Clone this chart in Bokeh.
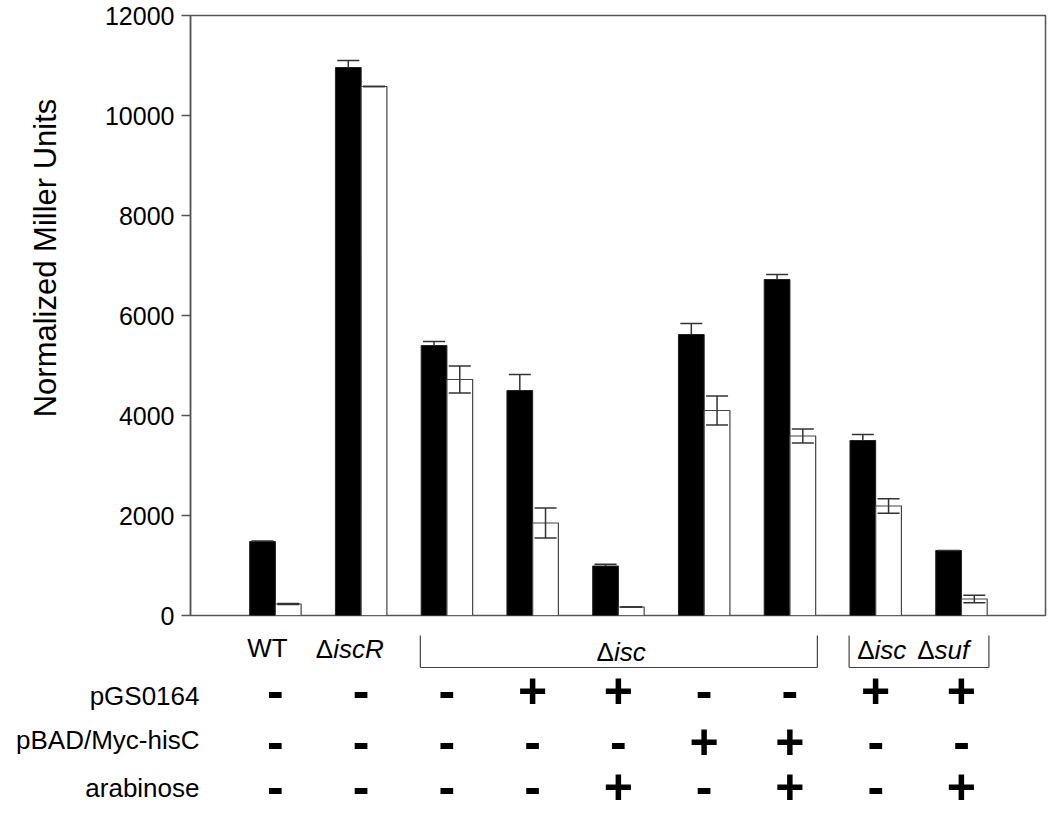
import math
from bokeh.plotting import figure
from bokeh.models import Range1d, FixedTicker, ColumnDataSource, Whisker, TeeHead
from bokeh.layouts import column, row
from bokeh.core.properties import value
from bokeh.transform import dodge
from bokeh.embed import file_html
from bokeh.resources import INLINE

# ---------------- data ----------------
groups = list(range(9))
black_vals = [1480, 10960, 5400, 4500, 990, 5620, 6720, 3500, 1300]
black_err = [10, 140, 80, 320, 35, 220, 100, 120, 0]
white_vals = [230, 10580, 4720, 1850, 170, 4100, 3590, 2190, 330]
white_err = [10, 0, 270, 300, 0, 290, 140, 145, 75]
y_ticks = [0, 2000, 4000, 6000, 8000, 10000, 12000]
y_title = "Normalized Miller Units"

row_names = ["pGS0164", "pBAD/Myc-hisC", "arabinose"]
pGS0164 = ["-", "-", "-", "+", "+", "-", "-", "+", "+"]
pBAD_Myc_hisC = ["-", "-", "-", "-", "-", "+", "+", "-", "-"]
arabinose = ["-", "-", "-", "-", "+", "-", "+", "-", "+"]
rows = [pGS0164, pBAD_Myc_hisC, arabinose]

# strain labels, split into upright ("Δ") and italic pieces
wt_label = "WT"
iscR_label = [("Δ", "iscR")]
isc_label = [("Δ", "isc")]
iscsuf_label = [("Δ", "isc"), ("Δ", "suf")]
brackets = [(2, 6), (7, 8)]

# ---------------- layout (page pixels of the reference) ----------------
TOTAL_W = 1050
LEFT_W = 100
TOP_H = 631
BOT_H = 185
FL, FR, FT, FB = 190, 1045, 15, 615   # plot frame edges
XMIN, XMAX = -0.99, 8.98
YMIN, YMAX = 0, 12000

def px_x(xp):
    return XMIN + (xp - FL) * (XMAX - XMIN) / (FR - FL)

FONT = "Liberation Sans"
AXC = "#555555"

# ---- left strip: y axis title ----
left = figure(width=LEFT_W, height=TOP_H, x_range=Range1d(0, LEFT_W), y_range=Range1d(TOP_H, 0),
              output_backend="svg", toolbar_location=None, x_axis_location=None,
              y_axis_location=None, min_border=0)
left.grid.visible = False
left.outline_line_color = None
left.text(x=[45], y=[255], text=[y_title], angle=math.pi / 2, text_align="center",
          text_baseline="middle", text_font=value(FONT), text_font_size="31px",
          text_color="black")

# ---- main plot ----
p = figure(width=TOTAL_W - LEFT_W, height=TOP_H, x_range=Range1d(XMIN, XMAX),
           y_range=Range1d(YMIN, YMAX), output_backend="svg", toolbar_location=None,
           x_axis_location=None, min_border_left=FL - LEFT_W,
           min_border_right=TOTAL_W - FR, min_border_top=FT, min_border_bottom=TOP_H - FB)
p.grid.visible = False
p.outline_line_color = AXC
p.outline_line_width = 1.5

ax = p.yaxis[0]
ax.ticker = FixedTicker(ticks=y_ticks)
ax.minor_tick_line_color = None
ax.major_tick_in = 0
ax.major_tick_out = 9
ax.axis_line_color = AXC
ax.axis_line_width = 1.5
ax.major_tick_line_color = AXC
ax.major_tick_line_width = 1.5
ax.major_label_text_font = FONT
ax.major_label_text_font_size = "25px"
ax.major_label_text_color = "black"
ax.major_label_standoff = 7

BW = 0.3
src = ColumnDataSource(dict(
    x=groups,
    xb=[g - BW / 2 for g in groups],
    xw=[g + BW / 2 for g in groups],
    b=black_vals, bu=[v + e for v, e in zip(black_vals, black_err)],
    w=white_vals, wu=[v + e for v, e in zip(white_vals, white_err)],
    wl=[v - e for v, e in zip(white_vals, white_err)],
))

p.vbar(x=dodge("x", -BW / 2, range=p.x_range), top="b", width=BW, bottom=0, source=src,
       fill_color="black", line_color="#222222", line_width=1)
p.vbar(x=dodge("x", BW / 2, range=p.x_range), top="w", width=BW, bottom=0, source=src,
       fill_color="white", line_color="#444444", line_width=1.2)

ERRC = "#333333"
p.add_layout(Whisker(source=src, base="xb", upper="bu", lower="b", dimension="height",
                     upper_head=TeeHead(size=22, line_color=ERRC, line_width=1.5),
                     lower_head=None, line_color=ERRC, line_width=1.5, level="annotation"))
p.add_layout(Whisker(source=src, base="xw", upper="wu", lower="wl", dimension="height",
                     upper_head=TeeHead(size=22, line_color=ERRC, line_width=1.5),
                     lower_head=TeeHead(size=22, line_color=ERRC, line_width=1.5),
                     line_color=ERRC, line_width=1.5, level="annotation"))

# ---- bottom table: strains, brackets, +/- ----
b = figure(width=TOTAL_W, height=BOT_H, x_range=Range1d(px_x(0), px_x(TOTAL_W)),
           y_range=Range1d(TOP_H + BOT_H, TOP_H), output_backend="svg",
           toolbar_location=None, x_axis_location=None, y_axis_location=None, min_border=0)
b.grid.visible = False
b.outline_line_color = None

LBL = "26px"
b.text(x=[0], y=[647], x_offset=-8, text=[wt_label], text_align="center",
       text_baseline="alphabetic", text_font=value(FONT), text_font_size=LBL)

def mixed(xc, ybase, offsets, parts):
    for off, (up, it) in zip(offsets, parts):
        b.text(x=[xc], y=[ybase], x_offset=off, text=[up], text_align="right",
               text_baseline="alphabetic", text_font=value(FONT), text_font_size=LBL)
        b.text(x=[xc], y=[ybase], x_offset=off, text=[it], text_align="left",
               text_baseline="alphabetic", text_font=value(FONT), text_font_size=LBL,
               text_font_style="italic")

mixed(1, 648, [-28], iscR_label)
mixed((brackets[0][0] + brackets[0][1]) / 2, 651, [-4.5], isc_label)
mixed((brackets[1][0] + brackets[1][1]) / 2, 649, [-44, 16], iscsuf_label)

yt, yb = 635, 667
x0s, y0s, x1s, y1s = [], [], [], []
for g0, g1 in brackets:
    xl, xr = g0 - 0.31, g1 + 0.32
    for a, c, d, e in [(xl, yt, xl, yb), (xl, yb, xr, yb), (xr, yb, xr, yt)]:
        x0s.append(a); y0s.append(c); x1s.append(d); y1s.append(e)
b.segment(x0=x0s, y0=y0s, x1=x1s, y1=y1s, line_color="#444444", line_width=1.2)

row_base = [695, 739, 787]
sign_base = [690, 741, 786]
b.text(x=[px_x(199)] * 3, y=row_base, text=row_names, text_align="right",
       text_baseline="alphabetic", text_font=value(FONT), text_font_size="26px",
       text_color="black")

tx, ty, tt = [], [], []
for r, yb_ in zip(rows, sign_base):
    for g, s in zip(groups, r):
        tx.append(g); ty.append(yb_); tt.append(s)
b.text(x=tx, y=ty, text=tt, text_align="center", text_baseline="alphabetic",
       text_font=value(FONT), text_font_size="50px", text_font_style="bold",
       text_color="black")

layout = column(row(left, p), b)
open("out.html", "w").write(file_html(layout, INLINE))
